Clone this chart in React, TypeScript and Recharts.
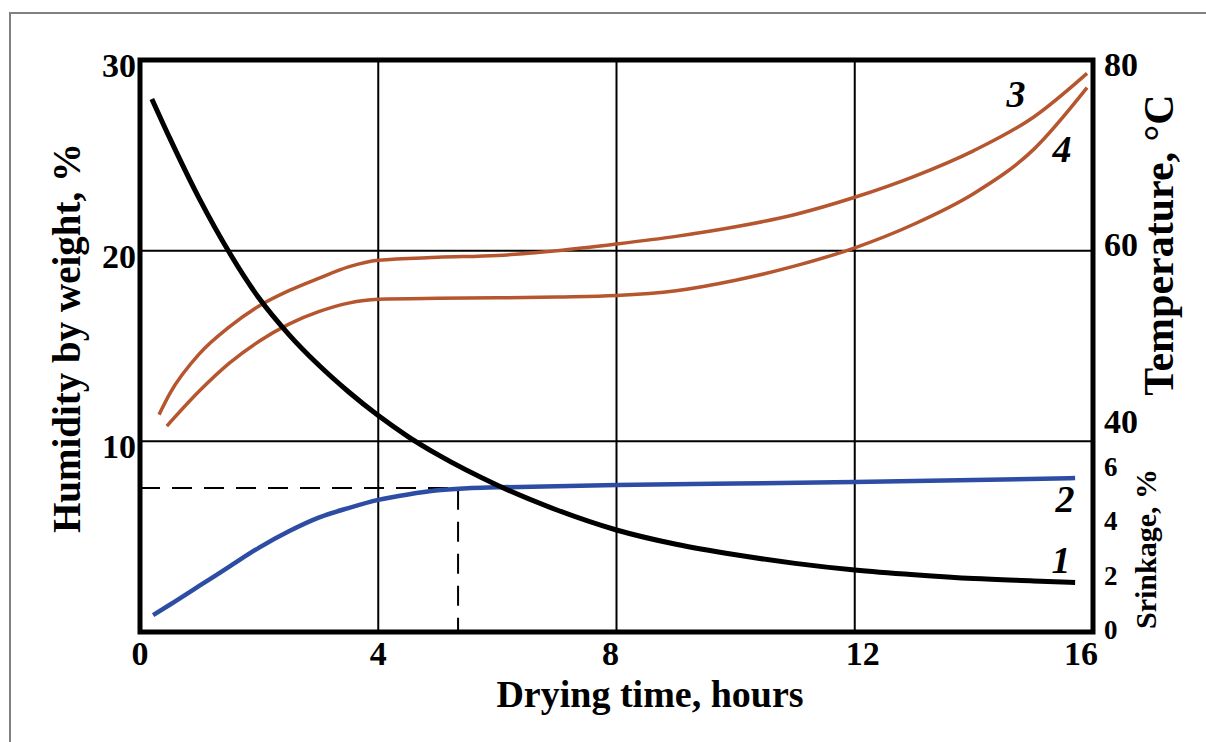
import React from "react";
import {
  LineChart,
  Line,
  XAxis,
  YAxis,
  ReferenceLine,
  ReferenceArea,
} from "recharts";

// curve 1: humidity by weight, %
const humidityTime = [0.2, 0.5, 1, 1.5, 2, 2.5, 3, 3.5, 4, 4.5, 5, 6, 7, 8, 9, 10, 11, 12, 13, 14, 15, 15.7];
const humidity = [27.95, 25.9, 22.7, 19.9, 17.5, 15.6, 14.0, 12.6, 11.35, 10.25, 9.3, 7.7, 6.4, 5.35, 4.6, 4.05, 3.6, 3.25, 3.0, 2.8, 2.68, 2.6];

// curve 2: shrinkage, %
const shrinkTime = [0.22, 0.5, 1, 1.5, 2, 2.5, 3, 3.5, 4, 4.5, 5, 5.5, 6, 8, 10, 12, 14, 15.7];
const shrink = [0.62, 1.0, 1.7, 2.4, 3.1, 3.7, 4.2, 4.55, 4.85, 5.05, 5.2, 5.28, 5.31, 5.4, 5.45, 5.51, 5.58, 5.65];

// curve 3: upper temperature, °C
const temp3Time = [0.32, 0.5, 1, 1.5, 2, 2.5, 3, 3.5, 4, 5, 6, 7, 8, 9, 10, 11, 12, 13, 14, 15, 15.9];
const temp3 = [42.8, 45.0, 49.2, 52.0, 54.2, 55.8, 57.1, 58.3, 59.0, 59.3, 59.5, 60.0, 60.7, 61.5, 62.5, 63.8, 65.6, 67.8, 70.5, 74.0, 78.6];

// curve 4: lower temperature, °C
const temp4Time = [0.45, 1, 1.5, 2, 2.5, 3, 3.5, 4, 5, 6, 7, 8, 9, 10, 11, 12, 13, 14, 15, 15.9];
const temp4 = [41.6, 45.3, 48.2, 50.5, 52.3, 53.6, 54.5, 54.9, 55.0, 55.05, 55.15, 55.3, 55.8, 56.9, 58.4, 60.3, 62.8, 66.0, 70.6, 77.1];

// dashed guide to the shrinkage plateau
const dashTime = [0, 5.34, 5.34];
const dashLevel = [5.29, 5.29, 0];

const timeTicks = [0, 4, 8, 12, 16];
const humidityTicks = [10, 20, 30];
const tempTicks = [40, 60, 80];
const shrinkTicks = [0, 2, 4, 6];

const zip = (ts: number[], vs: number[]) => ts.map((t, i) => ({ t, v: vs[i] }));

const humidityData = zip(humidityTime, humidity);
const shrinkData = zip(shrinkTime, shrink);
const temp3Data = zip(temp3Time, temp3);
const temp4Data = zip(temp4Time, temp4);
const dashData = zip(dashTime, dashLevel);

const FONT = '"Liberation Serif", "Times New Roman", serif';
const BROWN = "#B5562F";
const BLUE = "#2C4DA3";

// last time label sits left of the frame corner in the original
const xShift: Record<number, number> = { 16: -12, 12: 8, 8: -6 };
const XTick = ({ x, y, payload }: any) => (
  <text x={x + (xShift[payload.value] ?? 0)} y={y + 33} textAnchor="middle" fontFamily={FONT} fontWeight="bold" fontSize={34} fill="#000">
    {payload.value}
  </text>
);

const LeftTick = ({ x, y, payload }: any) => (
  <text x={x} y={y + 17} textAnchor="end" fontFamily={FONT} fontWeight="bold" fontSize={34} fill="#000">
    {payload.value}
  </text>
);

// the 40 label is lifted above its line in the original, to clear the shrinkage scale
const tempShift: Record<number, number> = { 80: 16, 60: 5, 40: -8 };
const TempTick = ({ x, y, payload }: any) => (
  <text x={x} y={y + (tempShift[payload.value] ?? 10)} textAnchor="start" fontFamily={FONT} fontWeight="bold" fontSize={34} fill="#000">
    {payload.value}
  </text>
);

const ShrinkTick = ({ x, y, payload }: any) => (
  <text x={x} y={y + 7} textAnchor="start" fontFamily={FONT} fontWeight="bold" fontSize={27} fill="#000">
    {payload.value}
  </text>
);

const txt = { fontFamily: FONT, fontWeight: "bold" as const, fill: "#000" };

export default function App() {
  return (
    <div style={{ position: "absolute", left: 0, top: 0, width: 1206, height: 742, background: "#fff" }}>
      <div
        style={{
          position: "absolute",
          left: 9,
          top: 12,
          width: 1197,
          height: 730,
          borderLeft: "2px solid #808080",
          borderTop: "2px solid #808080",
        }}
      />
      <div style={{ position: "absolute", left: 0, top: 0 }}>
        <LineChart width={1206} height={742} margin={{ top: 60, right: 52, bottom: 50, left: 40 }}>
          <XAxis
            type="number"
            dataKey="t"
            domain={[0, 16]}
            ticks={timeTicks}
            interval={0}
            height={60}
            axisLine={false}
            tickLine={false}
            tickSize={0}
            tickMargin={0}
            tick={<XTick />}
            allowDataOverflow
          />
          <YAxis
            yAxisId="hum"
            domain={[0, 30]}
            ticks={humidityTicks}
            interval={0}
            width={100}
            axisLine={false}
            tickLine={false}
            tickSize={0}
            tickMargin={4}
            tick={<LeftTick />}
            allowDataOverflow
          />
          <YAxis
            yAxisId="temp"
            orientation="right"
            domain={[20, 80]}
            ticks={tempTicks}
            interval={0}
            width={60}
            axisLine={false}
            tickLine={false}
            tickSize={0}
            tickMargin={10}
            tick={<TempTick />}
            allowDataOverflow
          />
          <YAxis
            yAxisId="shrink"
            orientation="right"
            domain={[0, 21]}
            ticks={shrinkTicks}
            interval={0}
            width={1}
            axisLine={false}
            tickLine={false}
            tickSize={0}
            tickMargin={11}
            tick={<ShrinkTick />}
            allowDataOverflow
          />

          {[4, 8, 12].map((v) => (
            <ReferenceLine key={`vx-${v}`} x={v} yAxisId="hum" stroke="#000" strokeWidth={2} />
          ))}
          {[10, 20].map((v) => (
            <ReferenceLine key={`hy-${v}`} y={v} yAxisId="hum" stroke="#000" strokeWidth={2} />
          ))}
          <ReferenceArea x1={0} x2={16} y1={0} y2={30} yAxisId="hum" fill="none" fillOpacity={0} stroke="#000" strokeWidth={5} />

          <Line data={dashData} yAxisId="shrink" dataKey="v" type="linear" stroke="#000" strokeWidth={2} strokeDasharray="20 12" dot={false} isAnimationActive={false} />
          <Line data={temp3Data} yAxisId="temp" dataKey="v" type="monotone" stroke={BROWN} strokeWidth={3.5} dot={false} isAnimationActive={false} />
          <Line data={temp4Data} yAxisId="temp" dataKey="v" type="monotone" stroke={BROWN} strokeWidth={3.5} dot={false} isAnimationActive={false} />
          <Line data={shrinkData} yAxisId="shrink" dataKey="v" type="monotone" stroke={BLUE} strokeWidth={4.5} dot={false} isAnimationActive={false} />
          <Line data={humidityData} yAxisId="hum" dataKey="v" type="monotone" stroke="#000" strokeWidth={5} dot={false} isAnimationActive={false} />
        </LineChart>
      </div>
      <svg width={1206} height={742} style={{ position: "absolute", left: 0, top: 0, pointerEvents: "none" }}>
        <text x={650} y={707} textAnchor="middle" fontSize={38} {...txt}>
          Drying time, hours
        </text>
        <text x={80} y={338} textAnchor="middle" fontSize={39} transform="rotate(-90 80 338)" {...txt}>
          Humidity by weight, %
        </text>
        <text x={1173} y={245} textAnchor="middle" fontSize={42} transform="rotate(-90 1173 245)" {...txt}>
          Temperature, °C
        </text>
        <text x={1156} y={549} textAnchor="middle" fontSize={30} transform="rotate(-90 1156 549)" {...txt}>
          Srinkage, %
        </text>
        <text x={1016} y={107} textAnchor="middle" fontSize={38} fontStyle="italic" {...txt}>3</text>
        <text x={1062} y={162} textAnchor="middle" fontSize={38} fontStyle="italic" {...txt}>4</text>
        <text x={1065} y={512} textAnchor="middle" fontSize={38} fontStyle="italic" {...txt}>2</text>
        <text x={1061} y={573} textAnchor="middle" fontSize={38} fontStyle="italic" {...txt}>1</text>
      </svg>
    </div>
  );
}
